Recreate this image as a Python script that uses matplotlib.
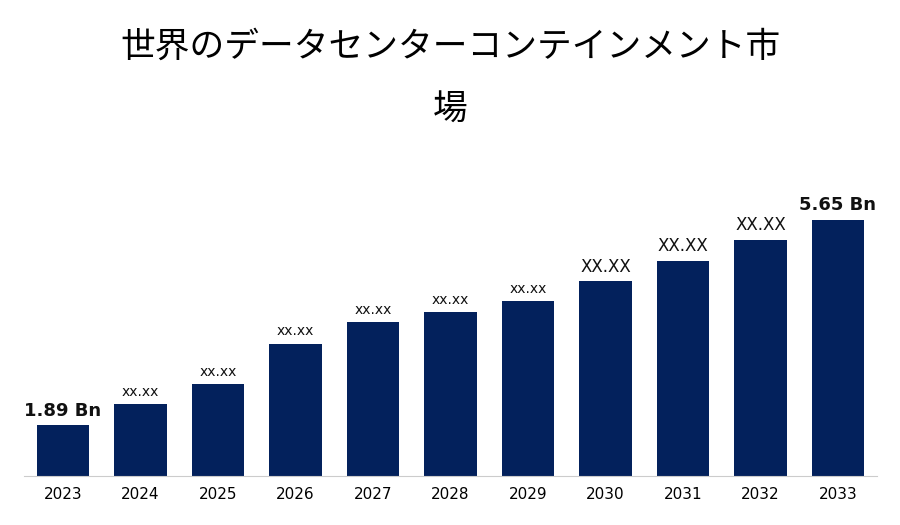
import matplotlib
matplotlib.use("Agg")
import matplotlib.pyplot as plt

years = ["2023", "2024", "2025", "2026", "2027", "2028", "2029", "2030", "2031", "2032", "2033"]
values = [1.12, 1.58, 2.02, 2.92, 3.39, 3.61, 3.85, 4.29, 4.75, 5.21, 5.65]
labels = ["1.89 Bn", "xx.xx", "xx.xx", "xx.xx", "xx.xx", "xx.xx", "xx.xx", "XX.XX", "XX.XX", "XX.XX", "5.65 Bn"]
label_sizes = [13, 10, 10, 10, 10, 10, 10, 12, 12, 12, 13]
label_bold = [True, False, False, False, False, False, False, False, False, False, True]

fig = plt.figure(figsize=(9, 5.25), dpi=100)
ax = fig.add_axes([0.027, 0.093, 0.947, 0.62])
x = range(len(years))
ax.bar(x, values, width=0.68, color="#03215c")
for i, v in enumerate(values):
    ax.text(i, v + 0.12, labels[i], ha="center", va="bottom", fontsize=label_sizes[i],
            fontweight="bold" if label_bold[i] else "normal", color="#111111")
ax.set_xlim(-0.5, len(years) - 0.5)
ax.set_ylim(0, 7.17)
ax.set_xticks(list(x))
ax.set_xticklabels(years, fontsize=11)
ax.set_yticks([])
for s in ["top", "right", "left"]:
    ax.spines[s].set_visible(False)
ax.spines["bottom"].set_color("#cccccc")
ax.tick_params(axis="x", length=0, pad=8)

fig.text(0.5, 0.91, "世界のデータセンターコンテインメント市", ha="center", va="center",
         fontsize=25, family="Noto Sans CJK JP")
fig.text(0.5, 0.79, "場", ha="center", va="center", fontsize=25, family="Noto Sans CJK JP")

fig.savefig("out.png", dpi=100)
